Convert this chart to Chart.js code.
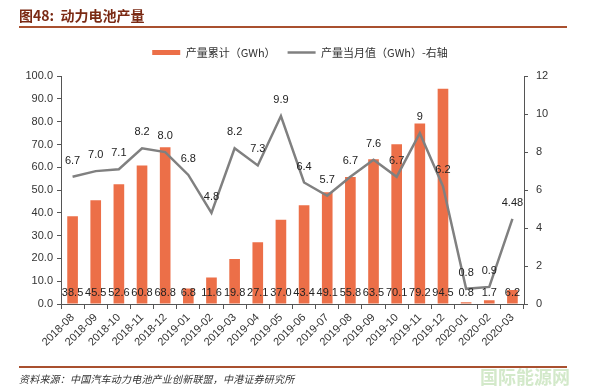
<!DOCTYPE html>
<html>
<head>
<meta charset="utf-8">
<script src="https://cdn.jsdelivr.net/npm/chart.js@4.4.1/dist/chart.umd.min.js"></script>
<style>
    body { margin: 0; background: #fff; }
    #wrap { position: relative; width: 600px; height: 392px; overflow: hidden; }
    #myChart { position: absolute; left: 0; top: 0; }
    .title { position: absolute; left: 19px; top: 5px; font: bold 14px "Noto Sans CJK SC", sans-serif; color: #7b2a14; white-space: nowrap; }
    .rule { position: absolute; left: 19px; width: 548px; height: 1.5px; background: #a9502f; }
    .source { position: absolute; left: 19px; top: 371px; font: italic 10px "Noto Sans CJK SC", sans-serif; color: #333; letter-spacing: 0.2px; white-space: nowrap; }
    .mark { position: absolute; left: 480px; top: 363px; font: bold 18px "Noto Sans CJK SC", sans-serif; color: #d3e9ca; white-space: nowrap; }
</style>
</head>
<body>
<div id="wrap">
    <canvas id="myChart" width="600" height="392"></canvas>
    <div class="title">图48:&nbsp;&nbsp;动力电池产量</div>
    <div class="rule" style="top:26px"></div>
    <div class="rule" style="top:366px"></div>
    <div class="source">资料来源：中国汽车动力电池产业创新联盟，中港证券研究所</div>
    <div class="mark">国际能源网</div>
</div>
<script>
    var months = ["2018-08", "2018-09", "2018-10", "2018-11", "2018-12", "2019-01", "2019-02", "2019-03", "2019-04", "2019-05",
        "2019-06", "2019-07", "2019-08", "2019-09", "2019-10", "2019-11", "2019-12", "2020-01", "2020-02", "2020-03"];
    // 产量累计 (GWh)
    var cumulative = [38.5, 45.5, 52.6, 60.8, 68.8, 6.8, 11.6, 19.8, 27.1, 37.0,
        43.4, 49.1, 55.8, 63.5, 70.1, 79.2, 94.5, 0.8, 1.7, 6.2];
    // 产量当月值 (GWh)，右轴
    var monthly = [6.7, 7.0, 7.1, 8.2, 8.0, 6.8, 4.8, 8.2, 7.3, 9.9,
        6.4, 5.7, 6.7, 7.6, 6.7, 9, 6.2, 0.8, 0.9, 4.48];
    var monthlyText = ["6.7", "7.0", "7.1", "8.2", "8.0", "6.8", "4.8", "8.2", "7.3", "9.9",
        "6.4", "5.7", "6.7", "7.6", "6.7", "9", "6.2", "0.8", "0.9", "4.48"];
    var leftTicks = { min: 0, max: 100, step: 10 };
    var rightTicks = { min: 0, max: 12, step: 2 };

    Chart.defaults.font.family = '"Liberation Sans", "Noto Sans CJK SC", sans-serif';
    Chart.defaults.font.size = 11;
    Chart.defaults.color = '#333';

    function eachItem(arr, fn) {
        for (var i = 0; i < arr.length; i++) fn(arr[i], i);
    }

    var valueLabels = {
        id: 'valueLabels',
        afterDatasetsDraw: function (chart) {
            var ctx = chart.ctx;
            ctx.save();
            ctx.font = '11px "Liberation Sans", sans-serif';
            ctx.fillStyle = '#222';
            ctx.textAlign = 'center';
            ctx.textBaseline = 'middle';
            eachItem(chart.getDatasetMeta(0).data, function (bar, i) {
                ctx.fillText(cumulative[i].toFixed(1), bar.x, chart.chartArea.bottom - 11);
            });
            eachItem(chart.getDatasetMeta(1).data, function (pt, i) {
                ctx.fillText(monthlyText[i], pt.x, pt.y - 16);
            });
            ctx.restore();
        }
    };

    var ctx = document.getElementById('myChart').getContext('2d');
    var chart = new Chart(ctx, {
        type: 'bar',
        data: {
            labels: months,
            datasets: [{
                type: 'bar',
                label: "产量累计（GWh）",
                data: cumulative,
                backgroundColor: '#ec6f48',
                yAxisID: 'y',
                order: 2,
                barPercentage: 0.46,
                categoryPercentage: 1,
                pointStyle: 'rect'
            }, {
                type: 'line',
                label: "产量当月值（GWh）-右轴",
                data: monthly,
                borderColor: '#808080',
                backgroundColor: '#808080',
                borderWidth: 2.5,
                pointRadius: 0,
                tension: 0,
                yAxisID: 'y1',
                order: 1,
                pointStyle: 'line'
            }]
        },
        options: {
            responsive: false,
            animation: false,
            devicePixelRatio: 1,
            layout: { padding: { top: 35, left: 0, right: 0, bottom: 0 } },
            plugins: {
                tooltip: { enabled: false },
                legend: {
                    weight: 1000,
                    labels: {
                        usePointStyle: true,
                        pointStyleWidth: 28,
                        boxHeight: 5,
                        padding: 12,
                        color: '#333',
                        font: { family: '"Noto Sans CJK SC", sans-serif', size: 11 },
                        sort: function (a, b) { return a.datasetIndex - b.datasetIndex; }
                    }
                },
                subtitle: {
                    display: true,
                    text: ' ',
                    weight: 500,
                    font: { size: 1 },
                    padding: { top: 0, bottom: 7 }
                }
            },
            scales: {
                x: {
                    afterFit: function (s) { s.height = 88; },
                    grid: { offset: true, drawOnChartArea: false, tickLength: 5, color: '#555' },
                    border: { color: '#555', width: 1 },
                    ticks: { minRotation: 45, maxRotation: 45, autoSkip: false, padding: 2, color: '#333' }
                },
                y: {
                    position: 'left',
                    min: leftTicks.min,
                    max: leftTicks.max,
                    afterFit: function (s) { s.width = 61; },
                    grid: { drawOnChartArea: false, tickLength: 4, color: '#555' },
                    border: { color: '#555', width: 1 },
                    ticks: {
                        stepSize: leftTicks.step,
                        padding: 4,
                        color: '#333',
                        callback: function (v) { return v.toFixed(1); }
                    }
                },
                y1: {
                    position: 'right',
                    min: rightTicks.min,
                    max: rightTicks.max,
                    afterFit: function (s) { s.width = 76; },
                    grid: { drawOnChartArea: false, tickLength: 4, color: '#555' },
                    border: { color: '#555', width: 1 },
                    ticks: { stepSize: rightTicks.step, padding: 8, color: '#333' }
                }
            }
        },
        plugins: [valueLabels]
    });
</script>
</body>
</html>
